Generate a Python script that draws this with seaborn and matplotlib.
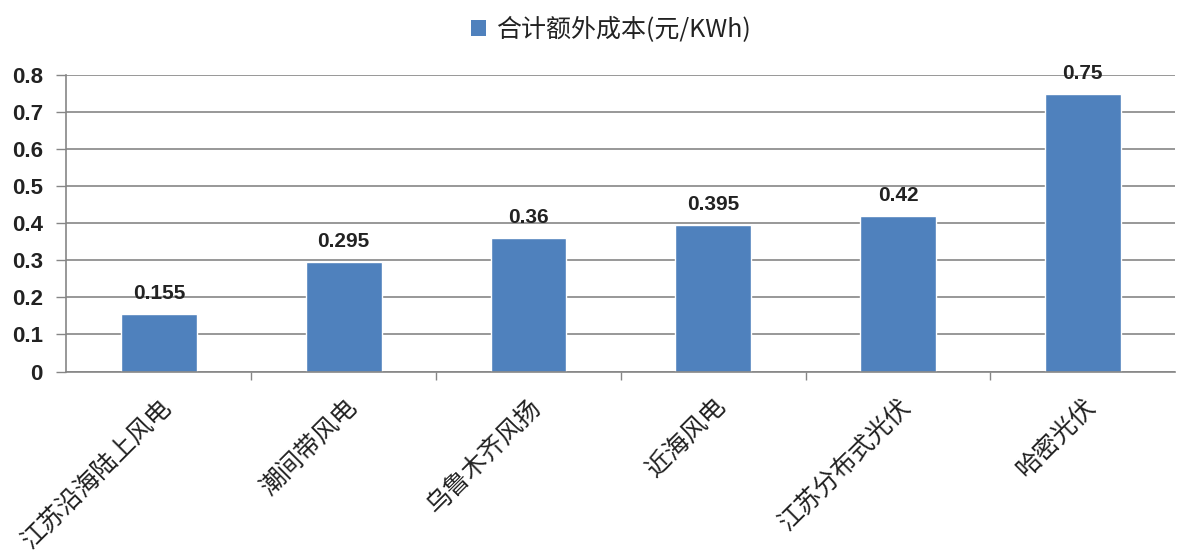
import matplotlib
matplotlib.use('Agg')
import matplotlib.pyplot as plt
import seaborn as sns
import pandas as pd
from matplotlib.patches import Patch

categories = ['江苏沿海陆上风电', '潮间带风电', '乌鲁木齐风扬', '近海风电', '江苏分布式光伏', '哈密光伏']
values = [0.155, 0.295, 0.36, 0.395, 0.42, 0.75]
value_labels = ['0.155', '0.295', '0.36', '0.395', '0.42', '0.75']
series_name = '合计额外成本(元/KWh)'
y_ticks = [0, 0.1, 0.2, 0.3, 0.4, 0.5, 0.6, 0.7, 0.8]

df = pd.DataFrame({'category': categories, 'value': values})

sns.set_theme(style='white')
plt.rcParams['font.family'] = ['Noto Sans CJK SC', 'DejaVu Sans']

fig, ax = plt.subplots(figsize=(11.87, 5.57), dpi=100)
fig.subplots_adjust(left=0.056, right=0.99, top=0.865, bottom=0.333)

sns.barplot(data=df, x='category', y='value', color='#4f81bd', saturation=1,
            width=0.41, ax=ax)

for i, (v, t) in enumerate(zip(values, value_labels)):
    ax.text(i, v + 0.03, t, ha='center', va='bottom', fontsize=15,
            family='Liberation Sans', fontweight='bold', color='#222222')

ax.set_ylim(0, 0.8)
ax.set_xlim(-0.5, len(categories) - 0.5)
ax.set_yticks(y_ticks)
ax.set_yticklabels(['0' if t == 0 else f'{t:.1f}' for t in y_ticks],
                   family='Liberation Sans', fontweight='bold', fontsize=16,
                   color='#222222')
ax.yaxis.grid(True, color='#868686', linewidth=1.2)
ax.set_axisbelow(True)

ax.set_xticks(range(len(categories)))
ax.set_xticklabels(categories, rotation=45, ha='right', rotation_mode='anchor',
                   fontsize=18, color='#222222')
ax.tick_params(axis='x', length=0, pad=16)
# minor ticks at category boundaries
ax.set_xticks([i + 0.5 for i in range(len(categories) - 1)], minor=True)
ax.tick_params(axis='x', which='minor', length=6, width=1, color='#868686', direction='out', bottom=True)
ax.tick_params(axis='y', length=7, width=1, color='#868686', direction='out', left=True, pad=10)

ax.set_xlabel('')
ax.set_ylabel('')
for s in ['top', 'right']:
    ax.spines[s].set_visible(False)
for s in ['left', 'bottom']:
    ax.spines[s].set_color('#868686')
    ax.spines[s].set_linewidth(1.2)

handle = Patch(facecolor='#4f81bd', edgecolor='none')
fig.legend([handle], [series_name], loc='upper center', bbox_to_anchor=(0.515, 1.01),
           frameon=False, fontsize=18, handlelength=0.6, handleheight=0.6,
           handletextpad=0.4, labelcolor='#222222')

plt.savefig('out.png', dpi=100)
